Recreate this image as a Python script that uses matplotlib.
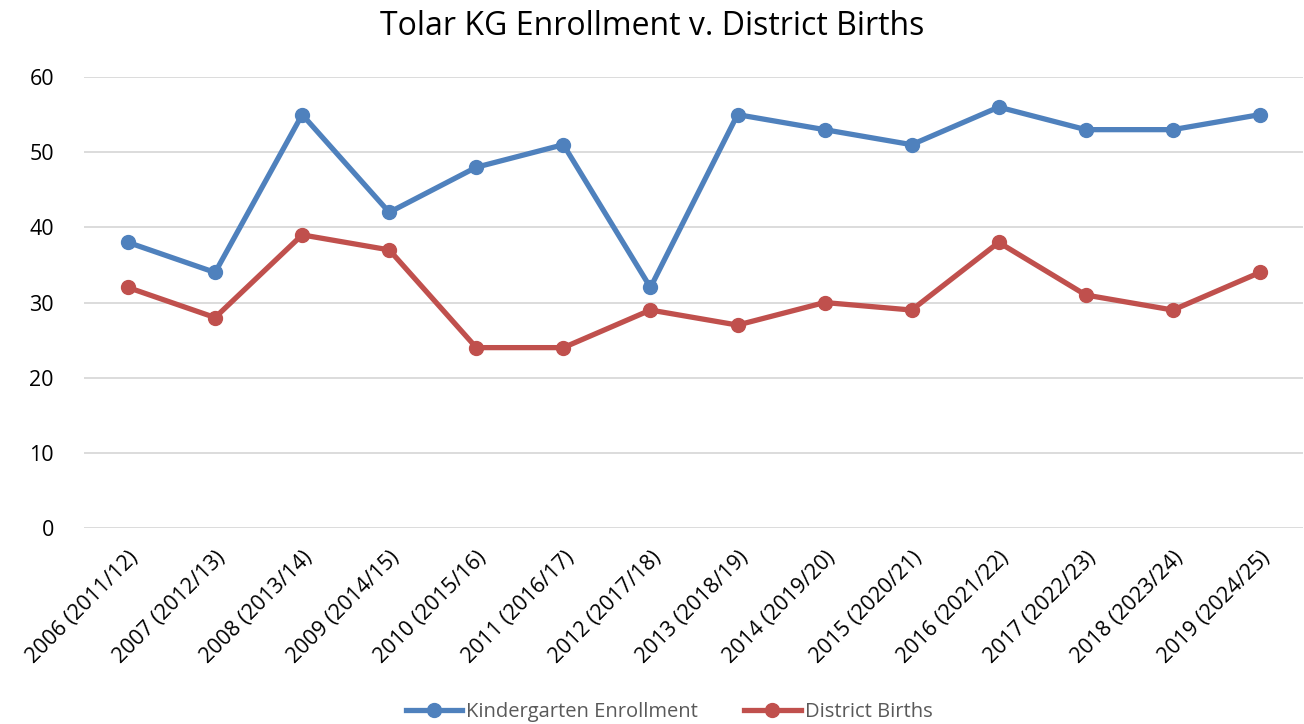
import matplotlib
matplotlib.use("Agg")
from matplotlib import pyplot as plt

# Data
years = ['2006 (2011/12)', '2007 (2012/13)', '2008 (2013/14)', '2009 (2014/15)',
         '2010 (2015/16)', '2011 (2016/17)', '2012 (2017/18)', '2013 (2018/19)',
         '2014 (2019/20)', '2015 (2020/21)', '2016 (2021/22)', '2017 (2022/23)',
         '2018 (2023/24)', '2019 (2024/25)']
kg_enrollment = [38, 34, 55, 42, 48, 51, 32, 55, 53, 51, 56, 53, 53, 55]
district_births = [32, 28, 39, 37, 24, 24, 29, 27, 30, 29, 38, 31, 29, 34]

plt.rcParams['font.family'] = ['Open Sans', 'DejaVu Sans']

fig = plt.figure(figsize=(13.04, 7.24), dpi=100)
ax = fig.add_axes([0.0648, 0.2707, 0.9348, 0.6229])

x = range(len(years))
ax.plot(x, kg_enrollment, color='#4F81BD', lw=3.8, marker='o', ms=10,
        label='Kindergarten Enrollment', zorder=3)
ax.plot(x, district_births, color='#C0504D', lw=3.8, marker='o', ms=10,
        label='District Births', zorder=3)

ax.set_xlim(-0.5, len(years) - 0.5)
ax.set_ylim(0, 60)
ax.set_yticks(range(0, 61, 10))
ax.set_xticks(list(x))
ax.set_xticklabels(years, rotation=45, ha='right', rotation_mode='anchor')
ax.tick_params(length=0, labelsize=15.5)
ax.tick_params(axis='y', pad=22)
ax.tick_params(axis='x', pad=14)
ax.grid(axis='y', color='#D9D9D9', lw=1.3)
ax.set_axisbelow(True)
for s in ax.spines.values():
    s.set_visible(False)

fig.suptitle('Tolar KG Enrollment v. District Births', fontsize=23, y=0.986)

fig.legend(loc='lower center', ncol=2, frameon=False, fontsize=14.5,
           bbox_to_anchor=(0.513, -0.022), handlelength=2.8, columnspacing=2.3,
           handletextpad=0.2, labelcolor='#595959')

fig.savefig('out.png', dpi=100)
